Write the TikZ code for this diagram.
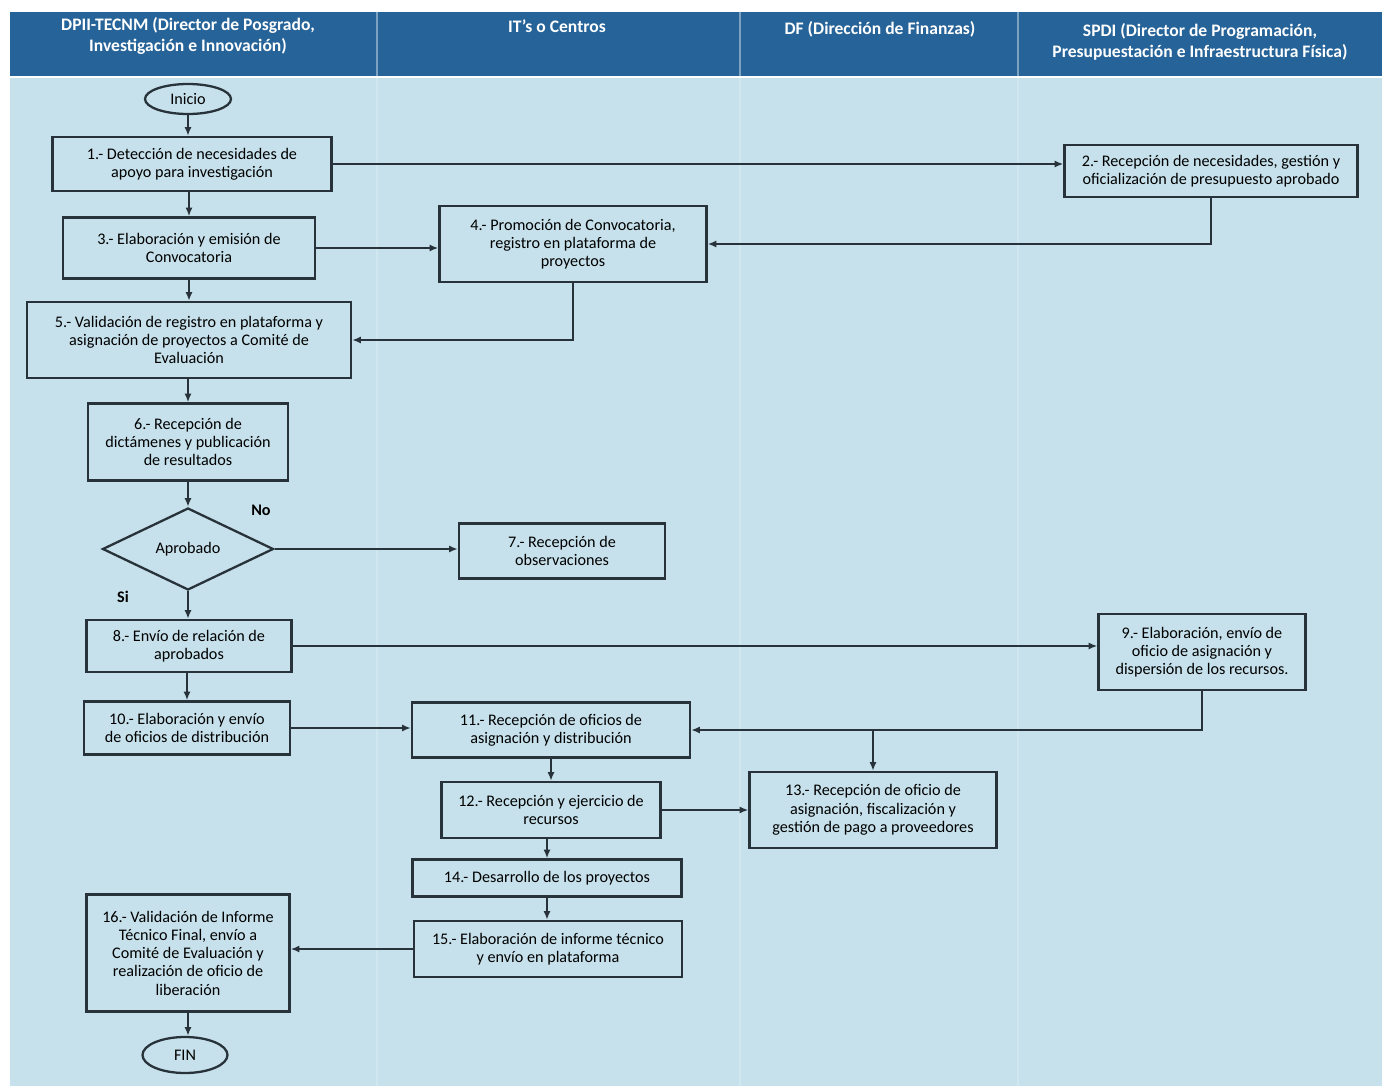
\documentclass[tikz,border=0pt]{standalone}
\usepackage{fontspec}
\setmainfont{Carlito}
\usetikzlibrary{shapes.geometric,arrows.meta}

\definecolor{encabezado}{RGB}{38,99,152}
\definecolor{fondo}{RGB}{198,225,235}
\definecolor{linea}{RGB}{40,50,58}

\tikzset{
  caja/.style={draw=linea, line width=1.3pt, align=center, inner sep=2pt,
    font=\fontsize{9.2}{10.4}\selectfont, text=black},
  terminal/.style={ellipse, draw=linea, line width=1.3pt, inner sep=0pt,
    font=\fontsize{9.2}{10.4}\selectfont},
  decision/.style={diamond, draw=linea, line width=1.3pt, inner sep=0pt,
    font=\fontsize{9.2}{10.4}\selectfont},
  flecha/.style={draw=linea, line width=1pt, -{Latex[length=5pt,width=4pt]}},
  titulo/.style={text=white, anchor=north, inner sep=0pt, align=center,
    font=\bfseries\fontsize{10}{11.8}\selectfont},
  etiqueta/.style={font=\bfseries\fontsize{9.2}{10}\selectfont, text=black}
}

\begin{document}
\begin{tikzpicture}[x=0.02cm, y=-0.02cm]
  \useasboundingbox (0,0) rectangle (1384,1089);
  \fill[white] (0,0) rectangle (1384,1089); % page
  \fill[fondo] (10,78) rectangle (1382,1086); % body
  \fill[encabezado] (10,12) rectangle (1382,76); % header bar
  \foreach \xs in {377,740,1018} {
    \draw[encabezado!60!white, line width=0.8pt] (\xs,12) -- (\xs,76);
    \draw[fondo!80!white, line width=0.8pt] (\xs,78) -- (\xs,1086);
  }

  % lane titles
  \node[titulo] (hd1) at (188,17) {DPII-TECNM (Director de Posgrado,\\ Investigación e Innovación)};
  \node[titulo] (hd2) at (557,19) {IT's o Centros};
  \node[titulo] (hd3) at (880,21) {DF (Dirección de Finanzas)};
  \node[titulo] (hd4) at (1200,23) {SPDI (Director de Programación,\\ Presupuestación e Infraestructura Física)};

  % steps
  \node[terminal, minimum width=1.72cm, minimum height=0.6cm] (ini) at (188,99) {Inicio};
  \node[caja, minimum width=5.58cm, minimum height=1.08cm] (p1) at (192,164) {1.- Detección de necesidades de\\ apoyo para investigación};
  \node[caja, minimum width=5.86cm, minimum height=1.04cm] (p2) at (1211,171) {2.- Recepción de necesidades, gestión y\\ oficialización de presupuesto aprobado};
  \node[caja, minimum width=5.04cm, minimum height=1.22cm] (p3) at (189,248) {3.- Elaboración y emisión de\\ Convocatoria};
  \node[caja, minimum width=5.34cm, minimum height=1.52cm] (p4) at (573,244) {4.- Promoción de Convocatoria,\\ registro en plataforma de\\ proyectos};
  \node[caja, minimum width=6.48cm, minimum height=1.52cm] (p5) at (189,340) {5.- Validación de registro en plataforma y\\ asignación de proyectos a Comité de\\ Evaluación};
  \node[caja, minimum width=4cm, minimum height=1.54cm] (p6) at (188,442) {6.- Recepción de\\ dictámenes y publicación\\ de resultados};
  \node[decision, minimum width=3.42cm, minimum height=1.64cm] (dia) at (188,549) {Aprobado};
  \node[caja, minimum width=4.12cm, minimum height=1.1cm] (p7) at (562,551) {7.- Recepción de\\ observaciones};
  \node[caja, minimum width=4.1cm, minimum height=1.04cm] (p8) at (189,646) {8.- Envío de relación de\\ aprobados};
  \node[caja, minimum width=4.14cm, minimum height=1.52cm] (p9) at (1202,652) {9.- Elaboración, envío de\\ oficio de asignación y\\ dispersión de los recursos.};
  \node[caja, minimum width=4.12cm, minimum height=1.06cm] (p10) at (187,728) {10.- Elaboración y envío\\ de oficios de distribución};
  \node[caja, minimum width=5.56cm, minimum height=1.1cm] (p11) at (551,730) {11.- Recepción de oficios de\\ asignación y distribución};
  \node[caja, minimum width=4.38cm, minimum height=1.12cm] (p12) at (551,810) {12.- Recepción y ejercicio de\\ recursos};
  \node[caja, minimum width=4.94cm, minimum height=1.52cm] (p13) at (873,810) {13.- Recepción de oficio de\\ asignación, fiscalización y\\ gestión de pago a proveedores};
  \node[caja, minimum width=5.38cm, minimum height=0.74cm] (p14) at (547,878) {14.- Desarrollo de los proyectos};
  \node[caja, minimum width=5.36cm, minimum height=1.12cm] (p15) at (548,949) {15.- Elaboración de informe técnico\\ y envío en plataforma};
  \node[caja, minimum width=4.06cm, minimum height=2.34cm] (p16) at (188,953) {16.- Validación de Informe\\ Técnico Final, envío a\\ Comité de Evaluación y\\ realización de oficio de\\ liberación};
  \node[terminal, minimum width=1.7cm, minimum height=0.72cm] (fin) at (185,1055) {FIN};

  \node[etiqueta] (no) at (261,510) {No};
  \node[etiqueta] (si) at (123,597) {Si};

  % flow
  \draw[flecha] (ini) -- (ini |- p1.north);
  \draw[flecha] (p1.east) -- (p1.east -| p2.west);
  \draw[flecha] (p1.south -| p3) -- (p3.north);
  \draw[flecha] (p3.east) -- (p3.east -| p4.west);
  \draw[flecha] (p2.south) |- (p4.east);
  \draw[flecha] (p3.south) -- (p5.north -| p3);
  \draw[flecha] (p4.south) |- (p5.east);
  \draw[flecha] (p5.south -| p6) -- (p6.north);
  \draw[flecha] (p6.south) -- (dia.north);
  \draw[flecha] (dia.east) -- (dia.east -| p7.west);
  \draw[flecha] (dia.south) -- (dia.south |- p8.north);
  \draw[flecha] (p8.east) -- (p8.east -| p9.west);
  \draw[flecha] (p8.south -| p10) -- (p10.north);
  \draw[flecha] (p10.east) -- (p10.east -| p11.west);
  \draw[flecha] (p9.south) |- (p11.east);
  \coordinate (jn) at (p13.north |- p11.east);
  \draw[flecha] (jn) -- (p13.north);
  \draw[flecha] (p11.south) -- (p12.north);
  \draw[flecha] (p12.east) -- (p12.east -| p13.west);
  \draw[flecha] (p12.south -| p14) -- (p14.north);
  \draw[flecha] (p14.south) -- (p15.north -| p14);
  \draw[flecha] (p15.west) -- (p15.west -| p16.east);
  \draw[flecha] (p16.south) -- (p16.south |- fin.north);
\end{tikzpicture}
\end{document}
